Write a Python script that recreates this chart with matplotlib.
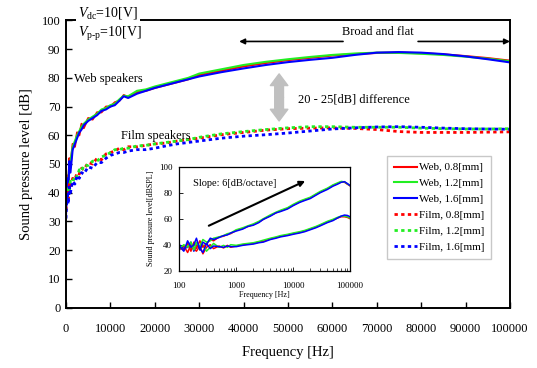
import matplotlib.pyplot as plt
import numpy as np

plt.rcParams['font.family'] = 'Liberation Serif'
plt.rcParams['mathtext.fontset'] = 'custom'
plt.rcParams['mathtext.rm'] = 'Liberation Serif'
plt.rcParams['mathtext.it'] = 'Liberation Serif:italic'

# main plot data (linear frequency axis)
freq = [0, 250, 500, 750, 1000, 1500, 2000, 2500, 3000, 3500, 4000, 5000, 6000, 7000,
        8000, 9000, 10000, 11000, 12000, 13000, 14000, 16000, 18000, 20000, 22500, 25000,
        27500, 30000, 35000, 40000, 45000, 50000, 55000, 60000, 65000, 70000, 75000,
        80000, 85000, 90000, 95000, 100000]

web_08 = [35, 46, 41, 52, 49, 57, 56, 61, 60, 64, 62.5, 66, 65.5, 68, 68, 70, 70, 71.5, 72,
          74, 73.3, 75, 75.5, 76.5, 77.5, 78.5, 79.5, 81, 82.5, 84, 85.2, 86.2, 87, 87.8,
          88.3, 88.7, 88.8, 88.6, 88.2, 87.6, 86.9, 86]
web_12 = [37, 44, 43, 50, 51, 56, 58, 60, 61.5, 63, 64, 65.5, 66.5, 67.5, 69, 69.5, 70.5,
          71, 72.5, 73.8, 73.6, 75.5, 76, 77, 78, 79, 80, 81.5, 83, 84.5, 85.6, 86.5, 87.3,
          88, 88.5, 88.8, 88.7, 88.4, 88, 87.4, 86.7, 85.8]
web_16 = [32, 45, 40, 51, 47, 55, 57, 59, 61, 62, 63.5, 65, 66, 67, 68.5, 69, 70, 70.5, 72,
          73.6, 73, 74.5, 75.5, 76.5, 77.5, 78.5, 79.5, 80.5, 82, 83.3, 84.5, 85.5, 86.3,
          87, 88, 88.8, 89, 88.8, 88.3, 87.5, 86.5, 85.4]

film_08 = [34, 41, 38, 43, 42, 45, 44.5, 47, 46.5, 48.5, 48, 50.5, 50, 52, 51.5, 53.5, 54,
           54.5, 55.5, 55, 56, 56, 56.5, 57, 57.3, 58, 58.5, 59, 60.2, 61, 61.8, 62.3,
           62.5, 62.6, 62.4, 62, 61.3, 61, 61, 61, 61.1, 61.2]
film_12 = [36, 39, 42, 41, 44, 43.5, 46, 45.5, 48, 47.5, 49.5, 49.5, 51, 51, 52.5, 53, 54,
           55, 55, 55.5, 55.5, 56.3, 56.5, 57, 57.5, 58, 58.5, 59.3, 60.5, 61.3, 62, 62.6,
           63, 63, 62.8, 62.8, 62.8, 62.5, 62.3, 62.2, 62.2, 62.3]
film_16 = [31, 40, 36, 42, 40, 44, 43, 46, 45, 47, 46.5, 49, 48.5, 50.5, 50.5, 52, 53, 53.5,
           54, 54, 54.5, 55, 55, 55.5, 56.3, 57, 57.5, 58, 59, 59.7, 60.2, 60.8, 61.5, 62.2,
           62.6, 62.9, 63, 62.8, 62.5, 62.3, 62.2, 62.1]

# inset data (log frequency axis)
freq_in = [100, 120, 140, 160, 180, 200, 230, 260, 300, 350, 400, 500, 600, 700, 800, 1000,
           1300, 1600, 2000, 2500, 3000, 4000, 5000, 6000, 8000, 10000, 13000, 16000, 20000,
           25000, 30000, 40000, 50000, 60000, 70000, 80000, 90000, 100000]

in_web_08 = [38, 36, 41, 35, 42, 37, 43, 38, 41, 44, 43, 46, 46.5, 48, 48.5, 51, 52.5, 54,
             55.5, 57.5, 59.5, 62.5, 64.5, 66, 68, 70.5, 73, 74.5, 76, 78.5, 80.5, 83, 85.5,
             87, 88.3, 88, 86.5, 85.3]
in_web_12 = [37, 40, 38, 42, 36, 41, 39, 44, 42, 43, 45, 46, 47, 48.5, 49, 51.5, 53, 54.5,
             56, 58, 60, 63, 65, 66.5, 68.5, 71, 73.5, 75, 76.5, 79, 81, 83.5, 86, 87.5,
             88.7, 88.3, 86.8, 85.5]
in_web_16 = [39, 35, 43, 38, 40, 45, 36, 42, 40, 45, 44, 45.5, 47, 47.5, 49, 50.5, 52, 54,
             55, 57, 59.5, 62, 64.5, 65.5, 67.5, 70, 72.5, 74, 75.5, 78, 80, 82.5, 85, 86.5,
             88, 88.5, 87, 85.5]

in_film_08 = [36, 39, 34, 40, 37, 35, 39, 33, 38, 40, 37, 39, 37.5, 39.5, 38, 39, 40, 40.5,
              41, 42, 42.5, 44.5, 45.5, 46.5, 47.5, 48.5, 49.5, 50.5, 52, 53.5, 55, 57.5,
              59, 60.5, 61.5, 61.5, 61, 60]
in_film_12 = [38, 36, 41, 37, 39, 42, 36, 40, 35, 38, 41, 38, 39.5, 38, 40, 39.5, 40.5, 41,
              41.5, 42.5, 43.5, 45, 46, 47, 48, 49, 50, 51, 52.5, 54, 55.5, 58, 59.5, 61,
              62, 62, 61.5, 60.5]
in_film_16 = [40, 37, 38, 42, 35, 40, 37, 34, 41, 37, 39, 38.5, 38, 39, 38.5, 38.5, 39.5,
              40, 40.5, 41.5, 42, 44, 45, 46, 47, 48, 49, 50, 51.5, 53, 54.5, 57, 58.5, 60.5,
              62, 62.8, 62.5, 61.5]

xticks = [0, 10000, 20000, 30000, 40000, 50000, 60000, 70000, 80000, 90000, 100000]
yticks = [0, 10, 20, 30, 40, 50, 60, 70, 80, 90, 100]

red = '#ff0000'
green = '#22ee22'
blue = '#0000ff'

fig = plt.figure(figsize=(5.37, 3.68), dpi=100)
ax = fig.add_axes([0.1229, 0.1644, 0.8268, 0.7799])

ax.plot(freq, web_08, color=red, lw=1.5, label='Web, 0.8[mm]')
ax.plot(freq, web_12, color=green, lw=1.5, label='Web, 1.2[mm]')
ax.plot(freq, web_16, color=blue, lw=1.5, label='Web, 1.6[mm]')
dots = (0, (1.2, 1.2))
ax.plot(freq, film_08, color=red, lw=2, ls=dots, label='Film, 0.8[mm]')
ax.plot(freq, film_12, color=green, lw=2, ls=dots, label='Film, 1.2[mm]')
ax.plot(freq, film_16, color=blue, lw=2, ls=dots, label='Film, 1.6[mm]')

ax.set_xlim(0, 100000)
ax.set_ylim(0, 100)
ax.set_xticks(xticks)
ax.set_xticklabels([str(v) for v in xticks])
ax.set_yticks(yticks)
ax.tick_params(direction='in', length=4, width=1, labelsize=9)
ax.tick_params(axis='x', pad=11)
ax.tick_params(axis='y', pad=4)
for s in ax.spines.values():
    s.set_linewidth(1.4)
ax.set_xlabel('Frequency [Hz]', fontsize=10.5, labelpad=8)
ax.set_ylabel('Sound pressure level [dB]', fontsize=10.5, labelpad=6)

# annotations
ax.text(0.027, 1.026, r'$V_{\mathrm{dc}}$=10[V]', transform=ax.transAxes, fontsize=10,
        va='center', ha='left', bbox=dict(fc='white', ec='none', pad=1.5), clip_on=False)
ax.text(2700, 95.4, r'$V_{\mathrm{p\text{-}p}}$=10[V]', fontsize=10, va='center', ha='left')
ax.text(1800, 79.7, 'Web speakers', fontsize=9, va='center', ha='left')
ax.text(12300, 59.8, 'Film speakers', fontsize=9, va='center', ha='left')

# "broad and flat" double arrow, broken around its label
ax.annotate('', xy=(39000, 92.7), xytext=(62400, 92.7),
            arrowprops=dict(arrowstyle='-|>', color='black', lw=1.2,
                            mutation_scale=8, shrinkA=0, shrinkB=0))
ax.annotate('', xy=(100000, 92.7), xytext=(79300, 92.7),
            arrowprops=dict(arrowstyle='-|>', color='black', lw=1.2,
                            mutation_scale=8, shrinkA=0, shrinkB=0))
ax.text(70300, 96.0, 'Broad and flat', fontsize=9, va='center', ha='center')

for y_end in (81.4, 65.0):
    ax.annotate('', xy=(48000, y_end), xytext=(48000, 73.2),
                arrowprops=dict(arrowstyle='simple,head_width=0.9,head_length=0.6,tail_width=0.45',
                                color='#c0c0c0', mutation_scale=14, shrinkA=0, shrinkB=0))
ax.text(52250, 72.4, '20 - 25[dB] difference', fontsize=9, va='center', ha='left')

leg = ax.legend(loc='upper left', bbox_to_anchor=(387 / 537, 1 - 156 / 368),
                bbox_transform=fig.transFigure, fontsize=8, fancybox=False,
                edgecolor='#c8c8c8', framealpha=1, borderpad=0.6, labelspacing=0.55,
                handlelength=2.1, handletextpad=0.15, borderaxespad=0)
leg.get_frame().set_linewidth(1)

# inset
axi = fig.add_axes([0.3339, 0.2644, 0.3179, 0.2826])
axi.set_facecolor('white')
axi.plot(freq_in, in_film_08, color=red, lw=1.1)
axi.plot(freq_in, in_film_12, color=green, lw=1.1)
axi.plot(freq_in, in_film_16, color=blue, lw=1.1)
axi.plot(freq_in, in_web_08, color=red, lw=1.1)
axi.plot(freq_in, in_web_12, color=green, lw=1.1)
axi.plot(freq_in, in_web_16, color=blue, lw=1.1)
axi.set_xscale('log')
axi.set_xlim(100, 100000)
axi.set_ylim(20, 100)
axi.set_xticks([100, 1000, 10000, 100000])
axi.set_xticklabels(['100', '1000', '10000', '100000'])
axi.set_yticks([20, 40, 60, 80, 100])
axi.tick_params(direction='in', labelsize=6.5, length=3, width=0.6)
axi.tick_params(axis='x', which='minor', direction='in', length=2, width=0.5)
axi.tick_params(axis='x', pad=8)
axi.tick_params(axis='y', pad=5)
for s in axi.spines.values():
    s.set_linewidth(0.9)
axi.set_xlabel('Frequency [Hz]', fontsize=5.8, labelpad=1)
axi.set_ylabel('Sound pressure level[dBSPL]', fontsize=5.8, labelpad=3)
axi.annotate('', xy=(16300, 89), xytext=(330, 54.6),
             arrowprops=dict(arrowstyle='-|>', color='black', lw=1.5,
                             mutation_scale=8, shrinkA=0, shrinkB=0))
axi.text(175, 87.3, 'Slope: 6[dB/octave]', fontsize=7.5, va='center', ha='left')

fig.savefig('out.png', dpi=100)
